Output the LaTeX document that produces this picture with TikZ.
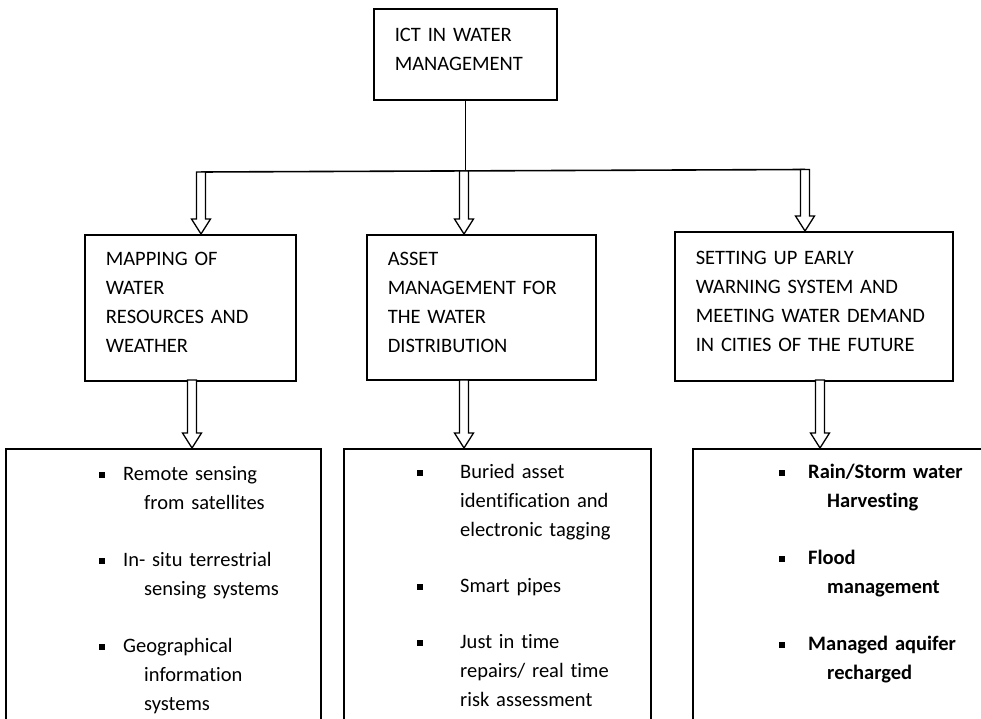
\documentclass[tikz,border=0pt]{standalone}
\usepackage{fontspec}
\setmainfont{Carlito}[Ligatures=NoCommon]
\usetikzlibrary{calc}

\newcommand{\sqbul}{\rule[2pt]{6pt}{6pt}}
\newcommand{\lowpad}{\rule[-10pt]{0pt}{10pt}}
% hollow block arrow, #1 = top of the shaft, #2 = tip
\newcommand{\hollowarrow}[2]{%
  \draw[hollow] ($(#1)+(-4.5,0)$) -- ($(#2)+(-4.5,-15)$) -- ($(#2)+(-9.5,-15)$) -- (#2)
    -- ($(#2)+(9.5,-15)$) -- ($(#2)+(4.5,-15)$) -- ($(#1)+(4.5,0)$) -- cycle;}

\begin{document}
\begin{tikzpicture}[x=1pt,y=-1pt,
    box/.style={draw=black, line width=1.6pt, align=left, inner xsep=21pt, inner ysep=0pt,
      anchor=north west, font=\fontsize{20.5}{29}\selectfont},
    list/.style={inner sep=0pt, anchor=base west, text width=205pt, align=left,
      font=\fontsize{20.5}{29}\selectfont},
    hollow/.style={draw=black, line width=1.3pt, fill=white, line join=miter},
    link/.style={draw=black, line width=1.6pt}]
    \useasboundingbox (0,0) rectangle (981,719);
    \clip (0,0) rectangle (981,719);

    \node[box, text width=141pt, minimum height=91pt] (ict) at (373,8) {ICT IN WATER\\MANAGEMENT\lowpad};

    \node[box, text width=169pt, minimum height=146pt] (mapping) at (84,234) {MAPPING OF\\WATER\\RESOURCES AND\\WEATHER\lowpad};
    \node[box, text width=187pt, minimum height=145pt] (asset) at (366,234) {ASSET\\MANAGEMENT FOR\\THE WATER\\DISTRIBUTION\lowpad};
    \node[box, text width=236pt, minimum height=149pt] (warning) at (674,231) {SETTING UP EARLY\\WARNING SYSTEM AND\\MEETING WATER DEMAND\\IN CITIES OF THE FUTURE\lowpad};

    \node[box, text width=273pt, minimum height=300pt] (sensing) at (5,448) {};
    \node[box, text width=265pt, minimum height=300pt] (pipes) at (343,448) {};
    \node[box, text width=290pt, minimum height=300pt] (storm) at (692,448) {};

    \node[list] (sensinglist) at (99,480) {\sqbul\hspace{18pt}Remote sensing\\
      \hspace*{45pt}from satellites\\[28pt]
      \sqbul\hspace{18pt}In- situ terrestrial\\
      \hspace*{45pt}sensing systems\\[28pt]
      \sqbul\hspace{18pt}Geographical\\
      \hspace*{45pt}information\\
      \hspace*{45pt}systems};
    \node[list] (pipeslist) at (417,478) {\sqbul\hspace{37pt}Buried asset\\
      \hspace*{43pt}identification and\\
      \hspace*{43pt}electronic tagging\\[27pt]
      \sqbul\hspace{37pt}Smart pipes\\[27pt]
      \sqbul\hspace{37pt}Just in time\\
      \hspace*{43pt}repairs/ real time\\
      \hspace*{43pt}risk assessment};
    \node[list, text width=195pt, font=\fontsize{20.5}{29}\selectfont\bfseries] (stormlist) at (779,478) {\sqbul\hspace{23pt}Rain/Storm water\\
      \hspace*{48pt}Harvesting\\[28pt]
      \sqbul\hspace{23pt}Flood\\
      \hspace*{48pt}management\\[28pt]
      \sqbul\hspace{23pt}Managed aquifer\\
      \hspace*{48pt}recharged};

    % connectors
    \coordinate (ul) at (201,172);
    \coordinate (um) at (464,171);
    \coordinate (ur) at (805,169.5);
    \coordinate (dl) at (192,380);
    \coordinate (dm) at (464,380);
    \coordinate (dr) at (820,380);
    \draw[link] (ict.south) -- (ict.south |- um);
    \draw[link] (ul) -- (ur);
    \hollowarrow{ul}{ul |- mapping.north}
    \hollowarrow{um}{um |- asset.north}
    \hollowarrow{ur}{ur |- warning.north}
    \hollowarrow{dl}{dl |- sensing.north}
    \hollowarrow{dm}{dm |- pipes.north}
    \hollowarrow{dr}{dr |- storm.north}
\end{tikzpicture}
\end{document}
